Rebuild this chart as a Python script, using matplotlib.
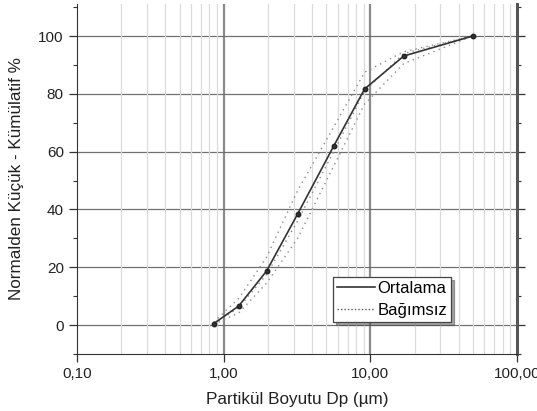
import matplotlib
matplotlib.use("Agg")
import matplotlib.pyplot as plt
from matplotlib.ticker import FixedLocator, FuncFormatter, LogLocator, NullFormatter

plt.rcParams['font.family'] = ['Liberation Sans', 'DejaVu Sans']

# particle size (um) and cumulative percent
sizes = [0.855, 1.266, 1.96, 3.19, 5.62, 9.14, 16.9, 49.8]
mean_pct = [0.5, 6.6, 18.7, 38.4, 61.9, 81.7, 93.1, 100.0]
rep_a = [1.0, 9.2, 23.5, 46.5, 68.5, 87.5, 94.6, 100.0]
rep_b = [0.4, 6.0, 17.5, 36.0, 60.0, 81.0, 94.0, 100.0]
rep_c = [0.2, 4.2, 14.5, 30.0, 55.0, 76.5, 90.5, 100.0]

y_ticks = [0, 20, 40, 60, 80, 100]
x_ticks = [0.1, 1, 10, 100]
x_labels = ["0,10", "1,00", "10,00", "100,00"]

fig = plt.figure(figsize=(5.37, 4.11), dpi=100)
ax = fig.add_axes([0.1434, 0.1387, 0.8194, 0.8516])
ax.set_xscale('log')
ax.set_xlim(0.1, 100)
ax.set_ylim(-10, 111.1)

# grid
ax.xaxis.set_minor_locator(LogLocator(base=10, subs=range(2, 10)))
ax.xaxis.set_minor_formatter(NullFormatter())
ax.grid(True, which='minor', axis='x', color='#dadada', lw=0.9, zorder=0)
for xv in [1, 10]:
    ax.axvline(xv, color='#8a8a8a', lw=1.6, zorder=0.5)
for yv in y_ticks:
    ax.axhline(yv, color='#707070', lw=0.9, zorder=0.5)

# series
for rep in (rep_a, rep_b, rep_c):
    ax.plot(sizes, rep, color='#8c8c8c', ls=(0, (1, 3)), lw=1.0, zorder=2)
ax.plot(sizes, mean_pct, color='#333333', lw=1.2, marker='o', ms=3.2,
        mfc='#333333', mec='#222222', zorder=3)

# spines & ticks
ax.spines['top'].set_visible(False)
ax.spines['left'].set_color('#333333')
ax.spines['bottom'].set_color('#333333')
ax.spines['right'].set_color('#555555')
ax.spines['right'].set_linewidth(2.2)
ax.set_xticks(x_ticks)
ax.xaxis.set_major_formatter(FuncFormatter(lambda v, p: x_labels[x_ticks.index(v)] if v in x_ticks else ""))
ax.set_yticks(y_ticks)
ax.yaxis.set_minor_locator(FixedLocator([-10, 10, 30, 50, 70, 90, 110]))
ax.tick_params(axis='both', which='major', direction='out', length=6, width=0.9,
               colors='#333333', labelsize=11, labelcolor='#222222')
ax.tick_params(axis='y', which='both', right=True)
ax.tick_params(axis='y', which='minor', direction='out', length=3, width=0.8, colors='#333333')
ax.tick_params(axis='x', which='minor', length=0)

ax.set_xlabel("Partikül Boyutu Dp (µm)", fontsize=12.3, color='#222222', labelpad=8)
ax.set_ylabel("Normalden Küçük - Kümülatif %", fontsize=12.3, color='#222222', labelpad=10)

leg_lines = [
    plt.Line2D([], [], color='#333333', lw=1.2),
    plt.Line2D([], [], color='#555555', ls=(0, (1, 1.5)), lw=1.0),
]
leg = ax.legend(leg_lines, ["Ortalama", "Bağımsız"], loc='lower left',
                bbox_to_anchor=(0.582, 0.091), fontsize=12,
                frameon=True, fancybox=False, shadow=True,
                handlelength=2.25, handletextpad=0.15, borderpad=0.25,
                labelspacing=0.4, borderaxespad=0)
leg.get_frame().set_edgecolor('#444444')
leg.get_frame().set_linewidth(0.9)

fig.savefig("out.png", dpi=100)
